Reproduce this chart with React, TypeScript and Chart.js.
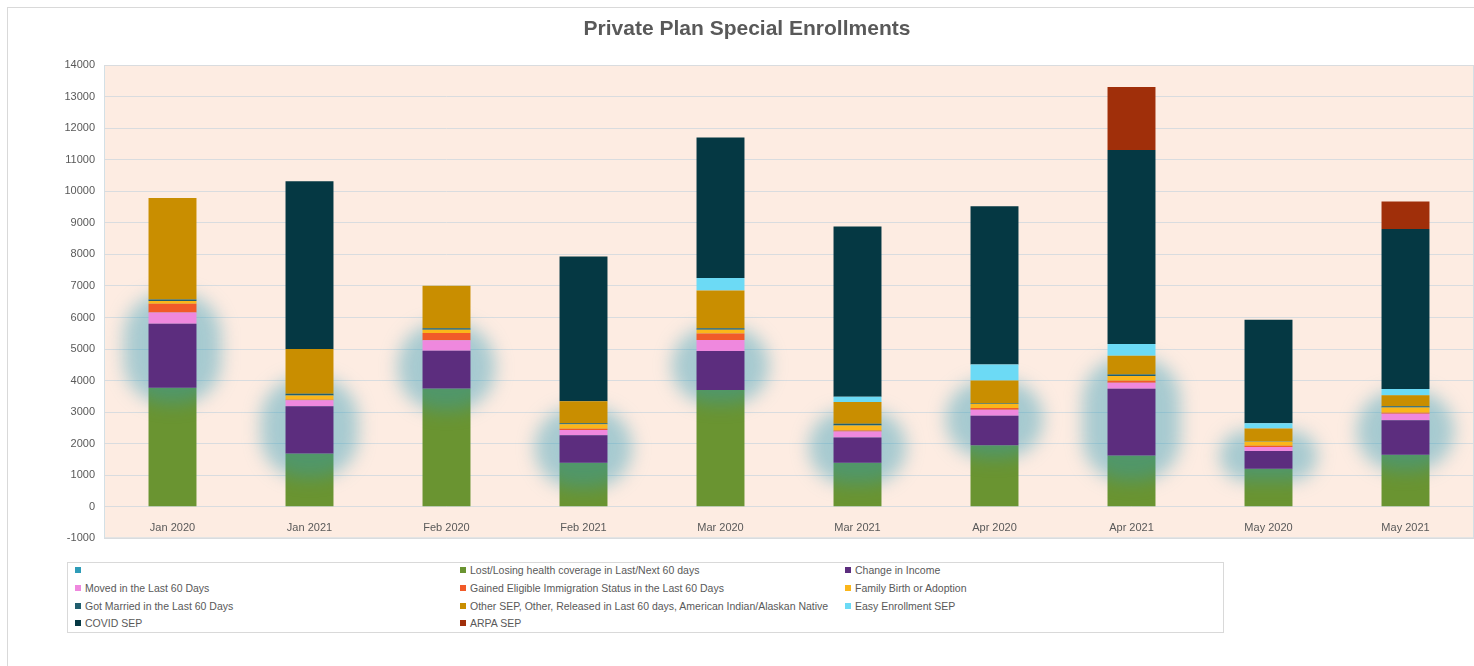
import React, { useEffect, useRef } from 'react';
import { Chart, registerables } from 'chart.js';

Chart.register(...registerables);

// ---------- data ----------
const categories = ['Jan 2020', 'Jan 2021', 'Feb 2020', 'Feb 2021', 'Mar 2020', 'Mar 2021', 'Apr 2020', 'Apr 2021', 'May 2020', 'May 2021'];

const lostCoverage = [3770, 1690, 3750, 1400, 3700, 1400, 1950, 1630, 1210, 1650];
const changeIncome = [2030, 1495, 1195, 865, 1240, 800, 940, 2115, 560, 1090];
const moved = [360, 190, 337, 170, 350, 190, 190, 190, 125, 210];
const immigration = [275, 20, 223, 40, 200, 30, 50, 60, 40, 35];
const birthAdoption = [85, 130, 106, 140, 125, 160, 140, 150, 135, 160];
const married = [50, 60, 50, 30, 40, 55, 20, 50, 20, 40];
const otherSep = [3217, 1420, 1345, 700, 1200, 690, 710, 595, 390, 350];
const easyEnrollment = [0, 0, 0, 0, 395, 160, 510, 370, 170, 200];
const covidSep = [0, 5310, 0, 4590, 4450, 5400, 5015, 6150, 3280, 5070];
const arpaSep = [0, 0, 0, 0, 0, 0, 0, 1990, 0, 870];

// unnamed first series (drawn as a soft glow range)
const blobLow = [3270, 920, 3050, 600, 3270, 730, 1555, 825, 825, 1140];
const blobHigh = [6760, 4095, 5810, 3140, 5680, 3050, 4000, 4730, 2410, 3680];

const yMin = -1000;
const yMax = 14000;
const yStep = 1000;

const labels = [
  '',
  'Lost/Losing health coverage in Last/Next 60 days',
  'Change in Income',
  'Moved in the Last 60 Days',
  'Gained Eligible Immigration Status in the Last 60 Days',
  'Family Birth or Adoption',
  'Got Married in the Last 60 Days',
  'Other SEP, Other, Released in Last 60 days, American Indian/Alaskan Native',
  'Easy Enrollment SEP',
  'COVID SEP',
  'ARPA SEP',
];

const colors = ['#2e9cb8', '#6a9431', '#5c2d7e', '#ef88de', '#f15a29', '#fbb61a', '#215e6e', '#c98e00', '#6cdaf5', '#053843', '#a02f0a'];

const stackSeries = [lostCoverage, changeIncome, moved, immigration, birthAdoption, married, otherSep, easyEnrollment, covidSep, arpaSep];

const FONT = "'Liberation Sans', Arial, Helvetica, sans-serif";
const TEXT = '#595959';

const plotPlugin = {
  id: 'plotDecor',
  beforeDraw(chart: any) {
    const { ctx, chartArea: a } = chart;
    ctx.save();
    ctx.fillStyle = '#fdece2';
    ctx.fillRect(a.left, a.top, a.right - a.left, a.bottom - a.top);
    ctx.strokeStyle = '#d3e0e6';
    ctx.lineWidth = 1;
    ctx.strokeRect(a.left + 0.5, a.top + 0.5, a.right - a.left - 1, a.bottom - a.top - 1);
    ctx.restore();
  },
  beforeDatasetsDraw(chart: any) {
    const { ctx, chartArea: a } = chart;
    ctx.save();
    ctx.beginPath();
    ctx.rect(a.left, a.top, a.right - a.left, a.bottom - a.top);
    ctx.clip();
    chart.getDatasetMeta(1).controller.draw();
    ctx.filter = 'blur(9px)';
    chart.getDatasetMeta(0).controller.draw();
    ctx.restore();
  },
  beforeDatasetDraw(_chart: any, args: any) {
    if (args.index <= 1) return false;
    return true;
  },
};

export default function App() {
  const ref = useRef<HTMLCanvasElement>(null);

  useEffect(() => {
    if (!ref.current) return;
    const datasets: any[] = [
      {
        type: 'bar',
        label: labels[0],
        data: categories.map((_, i) => [blobLow[i], blobHigh[i]]),
        backgroundColor: 'rgba(46,156,184,0.42)',
        yAxisID: 'y2',
        grouped: false,
        barPercentage: 0.71,
        categoryPercentage: 1,
        borderRadius: 42,
        borderSkipped: false,
        borderWidth: 0,
      },
      ...stackSeries.map((d, k) => ({
        type: 'bar',
        label: labels[k + 1],
        data: d,
        backgroundColor: colors[k + 1],
        stack: 'sep',
        yAxisID: 'y',
        barPercentage: 0.35,
        categoryPercentage: 1,
        borderWidth: 0,
      })),
    ];

    const chart = new Chart(ref.current, {
      type: 'bar',
      data: { labels: categories, datasets },
      options: {
        animation: false,
        responsive: false,
        layout: { padding: { top: 65, bottom: 8, left: 0, right: 0 } },
        plugins: {
          legend: { display: false },
          tooltip: { enabled: false },
          title: { display: false },
        },
        scales: {
          x: {
            type: 'category',
            stacked: true,
            position: { y: 0 } as any,
            grid: { display: false },
            border: { display: false },
            ticks: {
              color: TEXT,
              font: { family: FONT, size: 11 },
              padding: 7,
              maxRotation: 0,
              autoSkip: false,
            },
          },
          y: {
            stacked: true,
            min: yMin,
            max: yMax,
            position: 'left',
            ticks: {
              stepSize: yStep,
              color: TEXT,
              font: { family: FONT, size: 11 },
              padding: 9,
              callback: (v: any) => String(v),
            },
            grid: { color: '#d9dcdf', drawTicks: false, lineWidth: 1 },
            border: { display: false },
            afterFit(s: any) {
              s.width = 104;
            },
          },
          y2: {
            display: false,
            stacked: false,
            min: yMin,
            max: yMax,
          },
        },
      } as any,
      plugins: [plotPlugin as any],
    });
    return () => chart.destroy();
  }, []);

  return (
    <div style={{ position: 'relative', width: 1474, height: 666, overflow: 'hidden', fontFamily: FONT, background: '#fff' }}>
      <style>{'body{margin:0;overflow:hidden}'}</style>
      <div
        style={{
          position: 'absolute',
          left: 7,
          top: 7,
          width: 1500,
          height: 700,
          border: '1px solid #d9d9d9',
          boxSizing: 'border-box',
        }}
      />
      <canvas ref={ref} width={1474} height={554} style={{ position: 'absolute', left: 0, top: 0, width: 1474, height: 554 }} />
      <div
        style={{
          position: 'absolute',
          left: 0,
          top: 16,
          width: 1494,
          textAlign: 'center',
          fontSize: 21,
          lineHeight: '24px',
          fontWeight: 'bold',
          color: TEXT,
        }}
      >
        Private Plan Special Enrollments
      </div>
      <div
        style={{
          position: 'absolute',
          left: 67,
          top: 562,
          width: 1157,
          height: 71,
          border: '1px solid #d9d9d9',
          boxSizing: 'border-box',
          background: '#fff',
        }}
      />
      {labels.map((lab, i) => {
        const col = i % 3;
        const row = Math.floor(i / 3);
        return (
          <div
            key={i}
            style={{
              position: 'absolute',
              left: 75 + col * 385,
              top: 570 + row * 17.8 - 7,
              height: 14,
              display: 'flex',
              alignItems: 'center',
              fontSize: 10.5,
              color: TEXT,
              whiteSpace: 'nowrap',
            }}
          >
            <span style={{ display: 'inline-block', width: 6, height: 6, background: colors[i], marginRight: 4 }} />
            <span>{lab}</span>
          </div>
        );
      })}
    </div>
  );
}
